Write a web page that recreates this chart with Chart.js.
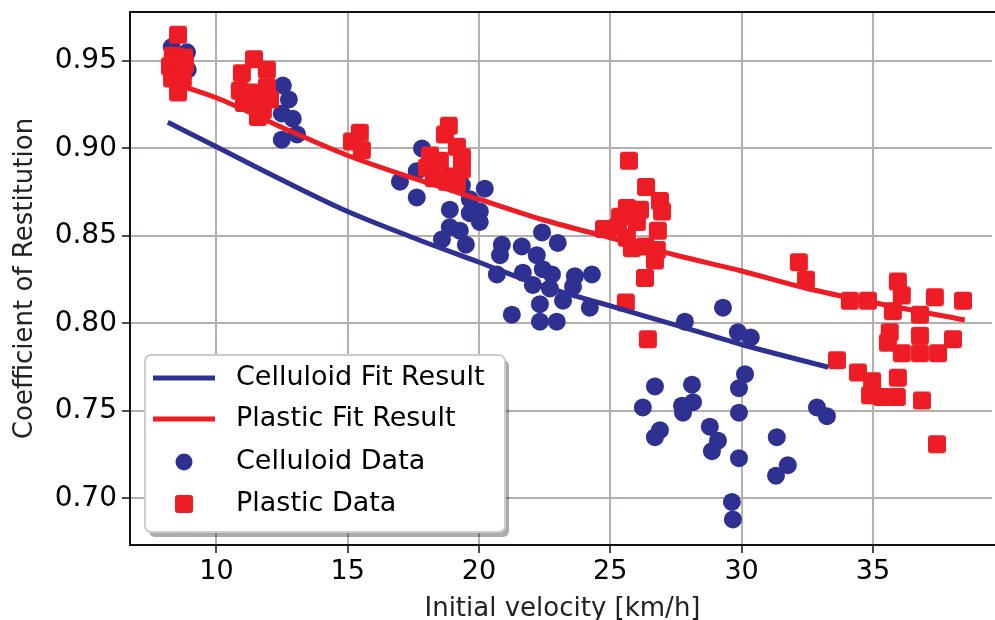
<!DOCTYPE html>
<html>
<head>
<meta charset="utf-8">
<script src="https://cdn.jsdelivr.net/npm/chart.js@4.4.1/dist/chart.umd.min.js"></script>
<style>
  html, body { margin: 0; padding: 0; background: #fff; }
  #wrap { width: 995px; height: 620px; }
</style>
</head>
<body>
<div id="wrap"><canvas id="chart" width="995" height="620"></canvas></div>
<script>
// tick values
const xTicks = [10, 15, 20, 25, 30, 35];
const yTicks = [0.70, 0.75, 0.80, 0.85, 0.90, 0.95];

// fit curves
const celluloidFitV = [8.15, 10, 12.5, 15, 17.5, 20, 22.5, 25, 27.5, 30, 33.3];
const celluloidFitE = [0.915, 0.901, 0.882, 0.864, 0.849, 0.835, 0.821, 0.810, 0.799, 0.788, 0.775];
const plasticFitV = [8.2, 10, 12.5, 15, 17.5, 20, 22.5, 25, 27.5, 30, 32.5, 35, 38.5];
const plasticFitE = [0.938, 0.929, 0.912, 0.896, 0.883, 0.871, 0.859, 0.849, 0.839, 0.830, 0.820, 0.812, 0.802];

// measured points
const celluloidV = [
  8.3, 8.88, 8.23, 8.91,
  12.53, 12.76, 12.49, 12.91, 13.07, 12.49,
  16.99, 17.63, 17.63, 17.83, 19.35, 20.22, 19.65, 18.89, 20.03, 19.65, 20.03, 18.89, 19.27, 18.59, 19.5,
  22.4, 23.0, 20.87, 20.8, 21.63, 22.2, 20.68, 21.67, 22.43, 22.78, 22.05, 22.7, 23.65, 24.3, 23.58, 23.2, 22.32, 24.22, 21.25, 22.32, 22.96,
  27.84, 29.29, 29.86, 30.35, 30.13, 29.9, 26.7, 28.11, 28.15, 27.73, 26.24, 27.77, 29.9, 28.79, 26.89, 26.7, 29.1, 28.87, 29.9, 31.34, 31.76, 31.31, 32.87, 33.25, 29.63, 29.67
];
const celluloidE = [
  0.958, 0.955, 0.946, 0.945,
  0.936, 0.928, 0.920, 0.917, 0.908, 0.905,
  0.881, 0.887, 0.872, 0.900, 0.879, 0.877, 0.871, 0.865, 0.864, 0.863, 0.858, 0.855, 0.853, 0.848, 0.845,
  0.852, 0.846, 0.845, 0.839, 0.844, 0.839, 0.828, 0.829, 0.831, 0.828, 0.822, 0.820, 0.827, 0.828, 0.821, 0.813, 0.811, 0.809, 0.805, 0.801, 0.801,
  0.801, 0.809, 0.795, 0.792, 0.771, 0.763, 0.764, 0.765, 0.755, 0.753, 0.752, 0.749, 0.749, 0.741, 0.739, 0.735, 0.733, 0.727, 0.723, 0.735, 0.719, 0.713, 0.752, 0.747, 0.698, 0.688
];
const plasticV = [
  8.54, 8.34, 8.76, 8.23, 8.8, 8.31, 8.72, 8.54,
  11.43, 10.97, 11.92, 10.89, 11.28, 11.92, 11.54, 12.04, 11.05, 11.58, 11.77,
  15.46, 15.16, 15.54,
  18.85, 18.7, 19.16, 18.13, 18.51, 19.35, 18.02, 19.35, 18.28, 18.78, 19.16, 18.93,
  25.71, 26.36, 26.89, 26.97, 25.63, 25.37, 26.13, 24.76, 25.29, 26.01, 26.81, 25.63, 25.82, 26.32, 26.77, 26.7, 26.32, 25.59, 26.43,
  32.18, 32.45,
  34.12, 34.81, 35.95, 36.1, 35.76, 36.79, 37.36, 38.43, 35.64, 36.79, 38.05, 35.57, 36.1, 36.79, 37.48, 33.63, 34.43, 34.97, 35.95, 34.89, 35.34, 35.91, 36.87, 37.44
];
const plasticE = [
  0.965, 0.953, 0.952, 0.947, 0.948, 0.940, 0.940, 0.932,
  0.951, 0.943, 0.945, 0.933, 0.932, 0.935, 0.927, 0.928, 0.926, 0.918, 0.922,
  0.909, 0.904, 0.899,
  0.913, 0.908, 0.901, 0.896, 0.893, 0.895, 0.889, 0.888, 0.883, 0.881, 0.880, 0.884,
  0.893, 0.878, 0.870, 0.864, 0.866, 0.861, 0.865, 0.854, 0.855, 0.858, 0.853, 0.849, 0.843, 0.844, 0.842, 0.836, 0.826, 0.812, 0.791,
  0.835, 0.825,
  0.813, 0.813, 0.824, 0.816, 0.807, 0.805, 0.815, 0.813, 0.795, 0.793, 0.791, 0.789, 0.783, 0.783, 0.783, 0.779, 0.772, 0.767, 0.769, 0.759, 0.758, 0.758, 0.756, 0.731
];

const BLUE = '#2e3192';
const RED = '#ee1c24';
const FONT = "'DejaVu Sans', 'Liberation Sans', sans-serif";

const pts = (xs, ys) => xs.map((x, i) => ({ x: x, y: ys[i] }));

// rounded square marker like the matplotlib 's' marker
function squareMarker(size, color) {
  const c = document.createElement('canvas');
  c.width = size + 2;
  c.height = size + 2;
  const g = c.getContext('2d');
  g.fillStyle = color;
  g.beginPath();
  g.roundRect(1, 1, size, size, 3);
  g.fill();
  return c;
}
const redSquare = squareMarker(18, RED);

// top spine + boxed legend with shadow, drawn after everything else
const frameAndLegend = {
  id: 'frameAndLegend',
  afterDraw(chart) {
    const ctx = chart.ctx;
    const a = chart.chartArea;
    ctx.save();
    // the figure is cut at the right edge: no right spine visible
    ctx.fillStyle = '#fff';
    ctx.fillRect(a.right - 3, a.top, 3, a.bottom - a.top - 1);
    ctx.strokeStyle = '#111';
    ctx.lineWidth = 2;
    ctx.beginPath();
    ctx.moveTo(a.left, a.top);
    ctx.lineTo(a.right, a.top);
    ctx.stroke();

    const bx = 145, by = 355, bw = 360, bh = 177;
    ctx.fillStyle = 'rgba(0,0,0,0.33)';
    ctx.beginPath();
    ctx.roundRect(bx + 4, by + 5, bw, bh, 6);
    ctx.fill();
    ctx.fillStyle = '#fff';
    ctx.strokeStyle = '#cccccc';
    ctx.lineWidth = 2;
    ctx.beginPath();
    ctx.roundRect(bx, by, bw, bh, 6);
    ctx.fill();
    ctx.stroke();

    const rows = [378, 419, 462, 504];
    ctx.font = '27px ' + FONT;
    ctx.textBaseline = 'middle';
    ctx.textAlign = 'left';
    chart.data.datasets.forEach((ds, i) => {
      const y = rows[i];
      if (ds.type === 'line') {
        ctx.strokeStyle = ds.borderColor;
        ctx.lineWidth = 5;
        ctx.beginPath();
        ctx.moveTo(153, y);
        ctx.lineTo(215, y);
        ctx.stroke();
      } else if (ds.pointStyle === 'circle') {
        ctx.fillStyle = ds.backgroundColor;
        ctx.beginPath();
        ctx.arc(184, y, 8.5, 0, Math.PI * 2);
        ctx.fill();
      } else {
        ctx.drawImage(redSquare, 184 - redSquare.width / 2, y - redSquare.height / 2);
      }
      ctx.fillStyle = '#000';
      ctx.fillText(ds.label, 236, y);
    });
    ctx.restore();
  }
};

new Chart(document.getElementById('chart'), {
  data: {
    datasets: [
      {
        type: 'line',
        label: 'Celluloid Fit Result',
        data: pts(celluloidFitV, celluloidFitE),
        borderColor: BLUE,
        borderWidth: 5,
        pointRadius: 0,
        cubicInterpolationMode: 'monotone',
        order: 0
      },
      {
        type: 'line',
        label: 'Plastic Fit Result',
        data: pts(plasticFitV, plasticFitE),
        borderColor: RED,
        borderWidth: 5,
        pointRadius: 0,
        cubicInterpolationMode: 'monotone',
        order: 1
      },
      {
        type: 'scatter',
        label: 'Celluloid Data',
        data: pts(celluloidV, celluloidE),
        pointStyle: 'circle',
        pointRadius: 9,
        backgroundColor: BLUE,
        borderWidth: 0,
        order: 3
      },
      {
        type: 'scatter',
        label: 'Plastic Data',
        data: pts(plasticV, plasticE),
        pointStyle: redSquare,
        backgroundColor: RED,
        order: 2
      }
    ]
  },
  options: {
    responsive: false,
    animation: false,
    devicePixelRatio: 1,
    layout: { autoPadding: false, padding: { top: 12, right: 0, left: 0, bottom: 0 } },
    plugins: {
      legend: { display: false },
      tooltip: { enabled: false }
    },
    scales: {
      x: {
        type: 'linear',
        min: 6.71,
        max: 39.65,
        afterBuildTicks: s => { s.ticks = xTicks.map(v => ({ value: v })); },
        afterFit: s => { s.height = 75; s.paddingLeft = 0; s.paddingRight = 0; },
        grid: { color: '#b5b0ad', lineWidth: 2, tickColor: '#111', tickLength: 8, tickWidth: 1.5 },
        border: { color: '#111', width: 2 },
        ticks: { color: '#000', font: { family: FONT, size: 27 }, padding: 3, maxRotation: 0 },
        title: {
          display: true,
          text: 'Initial velocity [km/h]',
          color: '#222',
          font: { family: FONT, size: 26, lineHeight: 0.8 },
          padding: { top: 0, bottom: 0 }
        }
      },
      y: {
        type: 'linear',
        min: 0.6734,
        max: 0.978,
        afterBuildTicks: s => { s.ticks = yTicks.map(v => ({ value: v })); },
        afterFit: s => { s.width = 130; s.paddingTop = 0; s.paddingBottom = 0; },
        grid: { color: '#b5b0ad', lineWidth: 2, tickColor: '#111', tickLength: 8, tickWidth: 1.5 },
        border: { color: '#111', width: 2 },
        ticks: { color: '#000', font: { family: FONT, size: 28 }, padding: 5, callback: v => v.toFixed(2) },
        title: {
          display: true,
          text: 'Coefficient of Restitution',
          color: '#222',
          font: { family: FONT, size: 26 },
          padding: { top: 10, bottom: 0 }
        }
      }
    }
  },
  plugins: [frameAndLegend]
});
</script>
</body>
</html>
